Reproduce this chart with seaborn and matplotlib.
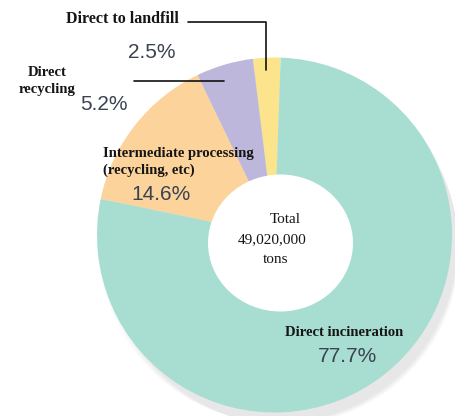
import matplotlib
matplotlib.use("Agg")
import matplotlib.pyplot as plt
from matplotlib.patches import Circle, Ellipse
import seaborn as sns

# Waste treatment breakdown (share of total, %)
categories = ["Direct to landfill", "Direct recycling",
              "Intermediate processing\n(recycling, etc)", "Direct incineration"]
shares = [2.5, 5.2, 14.6, 77.7]
total_lines = ["Total", "49,020,000", "tons"]

sns.set_style("white")
palette = sns.color_palette(["#fbe48c", "#bdb7dc", "#fcd39b", "#a8ddd2"])

W, H = 456, 416
fig = plt.figure(figsize=(W / 100, H / 100), dpi=100)
ax = fig.add_axes([0, 0, 1, 1])


def Y(y):
    return H - y


cx, cy, r = 274.5, Y(235), 177.5

# soft drop shadow to the lower right
for i in range(12):
    ax.add_patch(Circle((cx + 3 + i * 0.7, cy - 8 - i * 0.7), r + 2 - i * 0.5,
                        color="#9a9a9a", alpha=0.02, lw=0, zorder=0))

ax.pie(shares, colors=palette, startangle=88, counterclock=True,
       center=(cx, cy), radius=r, wedgeprops=dict(linewidth=0),
       frame=True)
ax.set_xlim(0, W)
ax.set_ylim(0, H)
ax.set_aspect("equal")
ax.axis("off")

# centre hole
ax.add_patch(Ellipse((280.5, Y(243)), 145, 137, color="white", lw=0, zorder=5))

serif = ["Liberation Serif", "DejaVu Serif"]
sans = ["Liberation Sans", "DejaVu Sans"]
pct_color = "#3a4352"
lab_size = 10.5
pct_size = 15


def pct(v):
    return f"{v}%"


def label(x, y, s, size=lab_size, weight="bold", **kw):
    ax.text(x, Y(y), s, family=serif, fontsize=size, fontweight=weight,
            color="#151515", zorder=6, va="center", **kw)


def share(x, y, v):
    ax.text(x, Y(y), pct(v), family=sans, fontsize=pct_size,
            ha="center", va="center", color=pct_color, zorder=6)


# Direct to landfill
label(122.5, 19, categories[0], size=11.5, ha="center")
ax.plot([188, 266, 266], [Y(22), Y(22), Y(70)], color="#111111", lw=1.2, zorder=6)
share(151.5, 52, shares[0])

# Direct recycling
label(47, 81, "Direct\nrecycling", ha="center", linespacing=1.3)
ax.plot([134, 224], [Y(81), Y(81)], color="#111111", lw=1.2, zorder=6)
share(103.5, 105, shares[1])

# Intermediate processing
label(103, 162, categories[2], ha="left", linespacing=1.3)
share(161.5, 195, shares[2])

# Total in the hole
for (tx, ty), s in zip([(285, 220), (272.5, 240), (276, 259.5)], total_lines):
    label(tx, ty, s, size=11, weight="normal", ha="center")

# Direct incineration
label(344, 333, categories[3], ha="center")
share(348, 356, shares[3])

fig.savefig("out.png", dpi=100, facecolor="white")
